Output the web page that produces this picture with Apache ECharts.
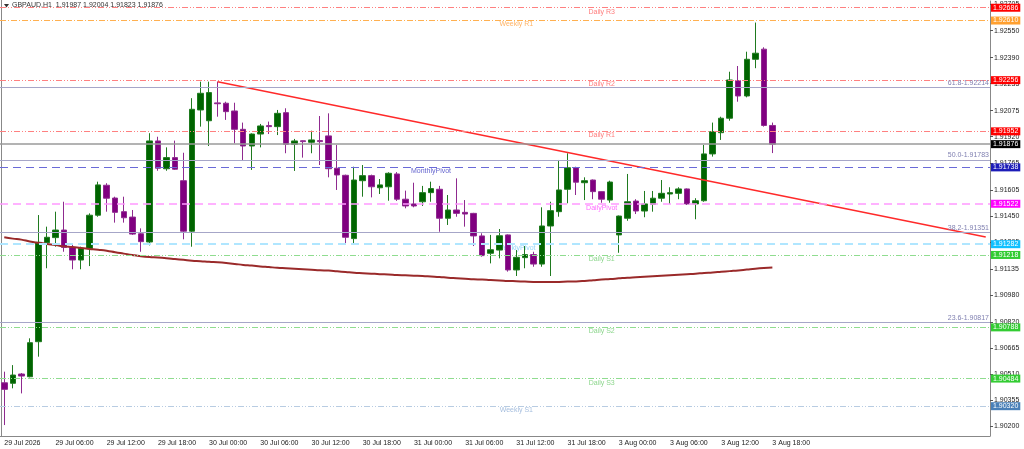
<!DOCTYPE html>
<html>
<head>
<meta charset="utf-8">
<script src="https://cdn.jsdelivr.net/npm/echarts@6/dist/echarts.min.js"></script>
<style>
html, body { margin: 0; padding: 0; background: #fff; }
#main { width: 1024px; height: 449px; }
</style>
</head>
<body>
<div id="main"></div>
<script>
// GBPAUD H1, 29 Jul - 3 Aug
let symbolName = 'GBPAUD,H1';
let days = ['29 Jul', '30 Jul', '31 Jul', '3 Aug'];
let barsPerDay = [24, 24, 24, 19];
let slots = 116;

let openP = [1.90459, 1.90456, 1.90511, 1.90495, 1.90703, 1.91291, 1.91321, 1.91366, 1.91263, 1.91188,
  1.91255, 1.91454, 1.91632, 1.91556, 1.91475, 1.91443, 1.91344, 1.91295, 1.91895, 1.91730,
  1.91796, 1.91659, 1.91359, 1.92079, 1.92015, 1.92121, 1.92119, 1.92073, 1.91964, 1.91865,
  1.91936, 1.91986, 1.91980, 1.92063, 1.91875, 1.91896, 1.91887, 1.91897, 1.91925, 1.91733,
  1.91691, 1.91315, 1.91659, 1.91689, 1.91617, 1.91623, 1.91699, 1.91549, 1.91521, 1.91534,
  1.91588, 1.91608, 1.91436, 1.91485, 1.91471, 1.91465, 1.91331, 1.91228, 1.91247, 1.91337,
  1.91129, 1.91202, 1.91220, 1.91164, 1.91390, 1.91475, 1.91608, 1.91736, 1.91647, 1.91663,
  1.91594, 1.91544, 1.91337, 1.91436, 1.91538, 1.91479, 1.91519, 1.91555, 1.91580, 1.91584,
  1.91610, 1.91521, 1.91540, 1.91818, 1.91944, 1.92030, 1.92253, 1.92162, 1.92380, 1.92440,
  1.91987];
let highP = [1.90525, 1.90564, 1.90517, 1.90723, 1.91455, 1.91386, 1.91475, 1.91534, 1.91287, 1.91267,
  1.91465, 1.91653, 1.91644, 1.91564, 1.91564, 1.91485, 1.91376, 1.91941, 1.91920, 1.91857,
  1.91897, 1.91825, 1.92149, 1.92247, 1.92247, 1.92247, 1.92128, 1.92122, 1.92004, 1.91940,
  1.91996, 1.92010, 1.92079, 1.92089, 1.91907, 1.91898, 1.91956, 1.92043, 1.92059, 1.91871,
  1.91695, 1.91742, 1.91752, 1.91695, 1.91669, 1.91709, 1.91710, 1.91600, 1.91647, 1.91628,
  1.91653, 1.91628, 1.91574, 1.91673, 1.91544, 1.91468, 1.91347, 1.91337, 1.91372, 1.91340,
  1.91247, 1.91271, 1.91237, 1.91501, 1.91534, 1.91782, 1.91822, 1.91742, 1.91679, 1.91666,
  1.91595, 1.91659, 1.91452, 1.91699, 1.91549, 1.91598, 1.91598, 1.91663, 1.91620, 1.91620,
  1.91613, 1.91555, 1.91871, 1.92004, 1.92039, 1.92306, 1.92340, 1.92425, 1.92598, 1.92451,
  1.92004];
let lowP = [1.90208, 1.90426, 1.90396, 1.90491, 1.90614, 1.91139, 1.91267, 1.91237, 1.91133, 1.91133,
  1.91152, 1.91445, 1.91475, 1.91410, 1.91410, 1.91337, 1.91237, 1.91275, 1.91718, 1.91718,
  1.91723, 1.91311, 1.91267, 1.91980, 1.91865, 1.92039, 1.92020, 1.91881, 1.91782, 1.91723,
  1.91857, 1.91936, 1.91930, 1.91822, 1.91717, 1.91796, 1.91822, 1.91752, 1.91679, 1.91604,
  1.91287, 1.91283, 1.91564, 1.91560, 1.91580, 1.91540, 1.91539, 1.91495, 1.91501, 1.91509,
  1.91534, 1.91356, 1.91396, 1.91445, 1.91386, 1.91271, 1.91208, 1.91168, 1.91198, 1.91119,
  1.91093, 1.91139, 1.91148, 1.91148, 1.91093, 1.91445, 1.91525, 1.91574, 1.91544, 1.91549,
  1.91528, 1.91528, 1.91231, 1.91421, 1.91461, 1.91442, 1.91475, 1.91534, 1.91521, 1.91549,
  1.91515, 1.91430, 1.91534, 1.91802, 1.91901, 1.92015, 1.92128, 1.92154, 1.92327, 1.91980,
  1.91823];
let closeP = [1.90420, 1.90505, 1.90499, 1.90697, 1.91293, 1.91323, 1.91366, 1.91263, 1.91188, 1.91258,
  1.91454, 1.91634, 1.91555, 1.91471, 1.91439, 1.91342, 1.91297, 1.91895, 1.91733, 1.91796,
  1.91727, 1.91359, 1.92083, 1.92178, 1.92182, 1.92116, 1.92069, 1.91964, 1.91865, 1.91936,
  1.91984, 1.91980, 1.92059, 1.91875, 1.91895, 1.91891, 1.91901, 1.91891, 1.91730, 1.91693,
  1.91323, 1.91663, 1.91689, 1.91623, 1.91634, 1.91703, 1.91549, 1.91509, 1.91509, 1.91588,
  1.91612, 1.91436, 1.91485, 1.91465, 1.91461, 1.91331, 1.91214, 1.91249, 1.91332, 1.91129,
  1.91204, 1.91220, 1.91164, 1.91390, 1.91481, 1.91604, 1.91736, 1.91650, 1.91659, 1.91594,
  1.91549, 1.91651, 1.91449, 1.91534, 1.91479, 1.91521, 1.91555, 1.91584, 1.91588, 1.91610,
  1.91521, 1.91540, 1.91818, 1.91950, 1.92030, 1.92257, 1.92162, 1.92380, 1.92416, 1.91987,
  1.91876];

// moving average
let maLine = [1.91323, 1.91315, 1.91309, 1.91298, 1.91290, 1.91283, 1.91277, 1.91269, 1.91265, 1.91259,
  1.91254, 1.91249, 1.91243, 1.91234, 1.91226, 1.91218, 1.91211, 1.91206, 1.91203, 1.91199,
  1.91194, 1.91189, 1.91184, 1.91181, 1.91177, 1.91174, 1.91170, 1.91165, 1.91159, 1.91155,
  1.91150, 1.91146, 1.91142, 1.91139, 1.91136, 1.91133, 1.91130, 1.91127, 1.91125, 1.91121,
  1.91117, 1.91113, 1.91110, 1.91107, 1.91104, 1.91102, 1.91099, 1.91097, 1.91095, 1.91093,
  1.91090, 1.91087, 1.91083, 1.91080, 1.91077, 1.91074, 1.91072, 1.91069, 1.91067, 1.91064,
  1.91062, 1.91060, 1.91058, 1.91057, 1.91057, 1.91058, 1.91060, 1.91061, 1.91064, 1.91068,
  1.91072, 1.91075, 1.91079, 1.91083, 1.91086, 1.91089, 1.91092, 1.91095, 1.91098, 1.91101,
  1.91104, 1.91107, 1.91111, 1.91114, 1.91118, 1.91122, 1.91126, 1.91131, 1.91136, 1.91140,
  1.91143];

let trendLine = [[25, 1.92247], [115, 1.91325]];

let levelNames = ['Daily R3', 'Weekly R1', 'Daily R2', 'Daily R1', 'MonthlyPivot', 'DailyPivot',
  'WeeklyPivot', 'Daily S1', 'Daily S2', 'Daily S3', 'Weekly S1'];
let levelValues = [1.92686, 1.92610, 1.92256, 1.91952, 1.91738, 1.91522, 1.91282, 1.91218, 1.90788, 1.90484, 1.90320];
let levelAt = [70, 60, 70, 70, 50, 70, 60, 70, 70, 70, 60];

let fibNames = ['61.8', '50.0', '38.2', '23.6'];
let fibValues = [1.92214, 1.91783, 1.91351, 1.90817];

let yTicks = [1.90200, 1.90355, 1.90510, 1.90665, 1.90820, 1.90980, 1.91135, 1.91295, 1.91450,
  1.91605, 1.91765, 1.91920, 1.92075, 1.92235, 1.92390, 1.92550, 1.92705];

// looks of the pivot lines, same order as levelNames
let dashDot2 = [6, 2, 1, 2, 1, 2];
let redLvl = { line: '#ff8080', type: dashDot2, width: 1, text: '#ff5a5a', box: '#ff0000' };
let greenLvl = { line: '#8fdc8f', type: dashDot2, width: 1, text: '#6fcc6f', box: '#33cc33' };
let levelLook = [
  redLvl,
  { line: '#ffb050', type: [6, 2, 1, 2], width: 1, text: '#ffa040', box: '#ffa030' },
  redLvl, redLvl,
  { line: '#6a6ad8', type: [8, 5], width: 1, text: '#3a3ac0', box: '#1c1cb8' },
  { line: '#ff99ff', type: [8, 5], width: 1.5, text: '#ff44ff', box: '#ff00ff' },
  { line: '#b0e6ff', type: [8, 5], width: 2, text: '#7ccdf5', box: '#10c0ff' },
  greenLvl, greenLvl, greenLvl,
  { line: '#b8cce2', type: dashDot2, width: 1, text: '#8eaed6', box: '#4a80b8' }
];

let font = 'Liberation Sans, Arial, sans-serif';

let cats = [];
days.forEach(function (d, k) {
  for (let h = 0; h < barsPerDay[k]; h++) {
    cats.push(d + ' ' + String(h).padStart(2, '0') + ':00');
  }
});
cats[0] = '29 Jul 2026';
let lastBar = cats.length - 1;
while (cats.length < slots) cats.push('');

let candles = openP.map(function (o, i) { return [o, closeP[i], lowP[i], highP[i]]; });
let last = openP.length - 1;
let lastPrice = closeP[last];
let titleText = symbolName + '  ' + [openP[last], highP[last], lowP[last], closeP[last]]
  .map(function (v) { return v.toFixed(5); }).join(' ');

let priceBox = function (value, box) {
  return {
    show: true, position: 'end', distance: 1,
    formatter: value.toFixed(5),
    color: '#fff', backgroundColor: box,
    fontSize: 7, fontFamily: font, lineHeight: 8,
    padding: [0, 2, 0, 2]
  };
};

let lines = [];
levelValues.forEach(function (v, i) {
  let lk = levelLook[i];
  lines.push({
    name: levelNames[i],
    yAxis: v,
    lineStyle: { color: lk.line, type: lk.type, width: lk.width },
    label: priceBox(v, lk.box)
  });
});
fibValues.forEach(function (v, i) {
  lines.push({
    name: 'fib ' + fibNames[i],
    yAxis: v,
    lineStyle: { color: '#a6a6c8', type: 'solid', width: 1.2 },
    label: {
      show: true, position: 'insideEndTop', distance: 1,
      formatter: fibNames[i] + '-' + v.toFixed(5),
      color: '#7f7fb0', fontSize: 7, fontFamily: font
    }
  });
});
lines.push({
  name: 'bid',
  yAxis: lastPrice,
  lineStyle: { color: '#9a9a9a', type: 'solid', width: 1.5 },
  label: priceBox(lastPrice, '#000')
});

let nameData = levelNames.map(function (n, i) {
  return {
    value: [levelAt[i], levelValues[i]],
    label: { formatter: n, color: levelLook[i].text }
  };
});

let myChart = echarts.init(document.getElementById('main'));

let option = {
  animation: false,
  backgroundColor: '#fff',
  grid: { left: -1.77, right: 34, top: 1, bottom: 13 },
  xAxis: {
    type: 'category',
    data: cats,
    boundaryGap: true,
    axisLine: { lineStyle: { color: '#888', width: 1 } },
    axisTick: {
      alignWithLabel: true, length: 3,
      interval: function (i) { return i % 6 === 0 && i <= lastBar; },
      lineStyle: { color: '#555' }
    },
    axisLabel: {
      interval: function (i) { return i % 6 === 0 && i <= lastBar; },
      align: 'left', margin: 4,
      fontSize: 7, fontFamily: font, color: '#222'
    },
    splitLine: { show: false }
  },
  yAxis: {
    type: 'value',
    position: 'right',
    min: 1.90143,
    max: 1.92726,
    axisLine: { show: true, lineStyle: { color: '#888', width: 1 } },
    axisTick: { show: true, length: 3, customValues: yTicks, lineStyle: { color: '#555' } },
    axisLabel: {
      customValues: yTicks, margin: 4,
      formatter: function (v) { return v.toFixed(5); },
      fontSize: 7, fontFamily: font, color: '#222'
    },
    splitLine: { show: false }
  },
  graphic: [
    { type: 'line', shape: { x1: 1.5, y1: 0, x2: 1.5, y2: 436 }, style: { stroke: '#888', lineWidth: 1 } },
    { type: 'polygon', shape: { points: [[4, 4], [9, 4], [6.5, 7.5]] }, style: { fill: '#333' } },
    { type: 'text', left: 12, top: 2, style: { text: titleText, fill: '#333', font: '7px ' + font } }
  ],
  series: [
    {
      name: 'levels',
      type: 'scatter',
      z: 1,
      symbol: 'circle',
      symbolSize: 1,
      itemStyle: { color: 'rgba(0,0,0,0)' },
      label: { show: true, position: 'bottom', distance: 0, fontSize: 7, fontFamily: font },
      data: nameData,
      silent: true,
      markLine: {
        silent: true,
        precision: 5,
        symbol: ['none', 'none'],
        animation: false,
        data: lines
      }
    },
    {
      name: 'GBPAUD',
      type: 'candlestick',
      z: 2,
      barWidth: 6,
      data: candles,
      itemStyle: {
        color: '#006400', color0: '#800080',
        borderColor: '#1f7a1f', borderColor0: '#8f2a8f',
        borderWidth: 1
      }
    },
    {
      name: 'MA',
      type: 'line',
      z: 3,
      data: maLine,
      showSymbol: false,
      smooth: true,
      lineStyle: { color: '#9a2a2a', width: 2 }
    },
    {
      name: 'trend',
      type: 'line',
      z: 3,
      data: trendLine,
      showSymbol: false,
      lineStyle: { color: '#ff2a2a', width: 1.5 }
    }
  ]
};

myChart.setOption(option);
</script>
</body>
</html>
